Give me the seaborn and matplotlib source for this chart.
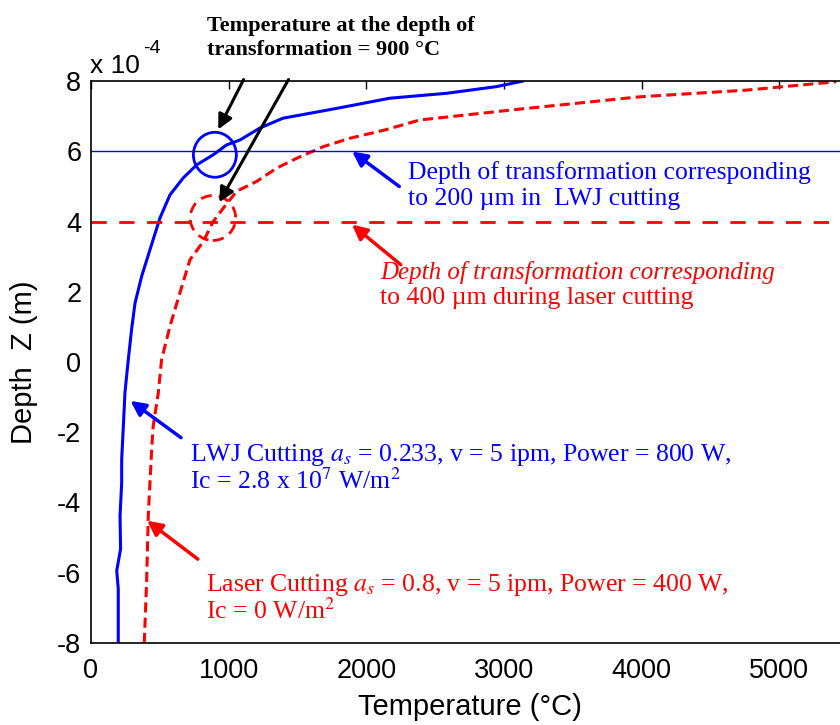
import matplotlib
matplotlib.use("Agg")
import matplotlib.pyplot as plt
import seaborn as sns
import pandas as pd
from matplotlib.patches import Ellipse

# Depth values in units of 1e-4 m, temperature in deg C
lwj_depth = [-8.0, -6.46, -5.94, -5.32, -4.38, -3.43, -2.77, -1.82, -0.86, 0.07, 0.93,
             1.68, 2.44, 3.34, 4.10, 4.76, 5.24, 5.61, 5.90, 6.18, 6.32, 6.66, 6.94,
             7.22, 7.51, 7.65, 7.84, 8.0]
lwj_temp = [198, 198, 187, 215, 211, 223, 223, 235, 247, 271, 295,
            320, 368, 440, 501, 574, 670, 767, 888, 985, 1082, 1227, 1394,
            1784, 2171, 2583, 2946, 3140]

laser_depth = [-8.0, -6.27, -4.38, -2.48, -1.82, -0.88, 0.07, 1.02, 1.97, 2.91, 3.43,
               4.00, 4.38, 4.86, 5.14, 5.52, 5.80, 6.13, 6.37, 6.60, 6.89, 7.18,
               7.55, 7.74, 7.98]
laser_temp = [387, 404, 416, 441, 452, 489, 513, 574, 646, 719, 816,
              888, 961, 1058, 1203, 1349, 1494, 1687, 1881, 2130, 2389, 3067,
              3987, 4762, 5415]

x_ticks = [0, 1000, 2000, 3000, 4000, 5000]
y_ticks = [-8, -6, -4, -2, 0, 2, 4, 6, 8]
lwj_transform_depth = 6
laser_transform_depth = 4
transform_temp = 900

lwj = pd.DataFrame({"Temperature": lwj_temp, "Depth": lwj_depth})
laser = pd.DataFrame({"Temperature": laser_temp, "Depth": laser_depth})

sns.set_style("white")
plt.rcParams['font.family'] = ['Liberation Sans', 'DejaVu Sans']
plt.rcParams['mathtext.fontset'] = 'stix'
plt.rcParams['axes.unicode_minus'] = False
plt.rcParams['text.color'] = 'black'
plt.rcParams['axes.labelcolor'] = 'black'

fig = plt.figure(figsize=(8.4, 7.25), dpi=100)
ax = fig.add_axes([91 / 840, 82 / 725, 757 / 840, 562 / 725])

sns.lineplot(data=lwj, x="Temperature", y="Depth", sort=False, estimator=None,
             color="blue", lw=2.2, ax=ax)
sns.lineplot(data=laser, x="Temperature", y="Depth", sort=False, estimator=None,
             color="red", lw=2.2, linestyle=(0, (3.3, 1.7)), ax=ax)

ax.axhline(lwj_transform_depth, color="blue", lw=1.0)
ax.axhline(laser_transform_depth, color="red", lw=2.0, linestyle=(0, (5.5, 4.5)))

# circles marking the transformation temperature
ax.add_patch(Ellipse((transform_temp, 5.9), 312, 1.28, fill=False, ec="blue", lw=2.0))
ax.add_patch(Ellipse((886, 4.1), 330, 1.28, fill=False, ec="red", lw=2.0,
                     linestyle=(0, (4, 2.5))))

ax.set_xlim(0, 5500)
ax.set_ylim(-8, 8)
ax.set_xticks(x_ticks)
ax.set_yticks(y_ticks)
ax.tick_params(direction="in", length=6, width=1, labelsize=19.5, pad=7,
               top=True, right=True, colors="black")
ax.tick_params(axis="x", pad=11)
for s in ax.spines.values():
    s.set_color("black")
    s.set_linewidth(1.2)
ax.set_xlabel("Temperature (°C)", fontsize=21, labelpad=6)
ax.set_ylabel("Depth  Z (m)", fontsize=21, labelpad=14)

fig.text(90 / 840, 1 - 73 / 725, "x 10", fontsize=19, va="baseline")
fig.text(143 / 840, 1 - 53 / 725, "-4", fontsize=14, va="baseline")

# annotation arrows
black = dict(arrowstyle="-|>", color="black", lw=2.2, mutation_scale=22)
ax.annotate("", xy=(915, 6.55), xytext=(1118, 8.11), arrowprops=black, annotation_clip=False)
ax.annotate("", xy=(922, 4.48), xytext=(1445, 8.11), arrowprops=black, annotation_clip=False)
blue_arrow = dict(arrowstyle="-|>", color="blue", lw=2.5, mutation_scale=22)
red_arrow = dict(arrowstyle="-|>", color="red", lw=2.5, mutation_scale=22)
ax.annotate("", xy=(1881, 6.04), xytext=(2256, 4.95), arrowprops=blue_arrow)
ax.annotate("", xy=(1881, 3.96), xytext=(2266, 2.72), arrowprops=red_arrow)
ax.annotate("", xy=(271, -1.06), xytext=(670, -2.20), arrowprops=blue_arrow)
ax.annotate("", xy=(392, -4.47), xytext=(792, -5.66), arrowprops=red_arrow)

serif = ['Liberation Serif', 'DejaVu Serif']
fs = 18.5
ax.text(2302, 5.22, "Depth of transformation corresponding", color="blue",
        fontsize=fs, family=serif, va="baseline")
ax.text(2302, 4.48, "to 200 µm in  LWJ cutting", color="blue",
        fontsize=fs, family=serif, va="baseline")
ax.text(2099, 2.35, "Depth of transformation corresponding", color="red",
        fontsize=18, family=serif, style="italic", va="baseline")
ax.text(2099, 1.64, "to 400 µm during laser cutting", color="red",
        fontsize=fs, family=serif, va="baseline")
ax.text(719, -2.82, r"LWJ Cutting $a_s$ = 0.233, v = 5 ipm, Power = 800 W,", color="blue",
        fontsize=fs, family=serif, va="baseline")
ax.text(719, -3.62, r"Ic = 2.8 x 10$^7$ W/m$^2$", color="blue",
        fontsize=fs, family=serif, va="baseline")
ax.text(835, -6.51, r"Laser Cutting $a_s$ = 0.8, v = 5 ipm, Power = 400 W,", color="red",
        fontsize=fs, family=serif, va="baseline")
ax.text(835, -7.31, r"Ic = 0 W/m$^2$", color="red",
        fontsize=fs, family=serif, va="baseline")

fig.text(207 / 840, 1 - 31 / 725, "Temperature at the depth of", fontsize=16,
         family=serif, weight="bold", va="baseline")
fig.text(207 / 840, 1 - 55 / 725, "transformation = 900 °C", fontsize=16,
         family=serif, weight="bold", va="baseline")

fig.savefig("out.png", dpi=100)
